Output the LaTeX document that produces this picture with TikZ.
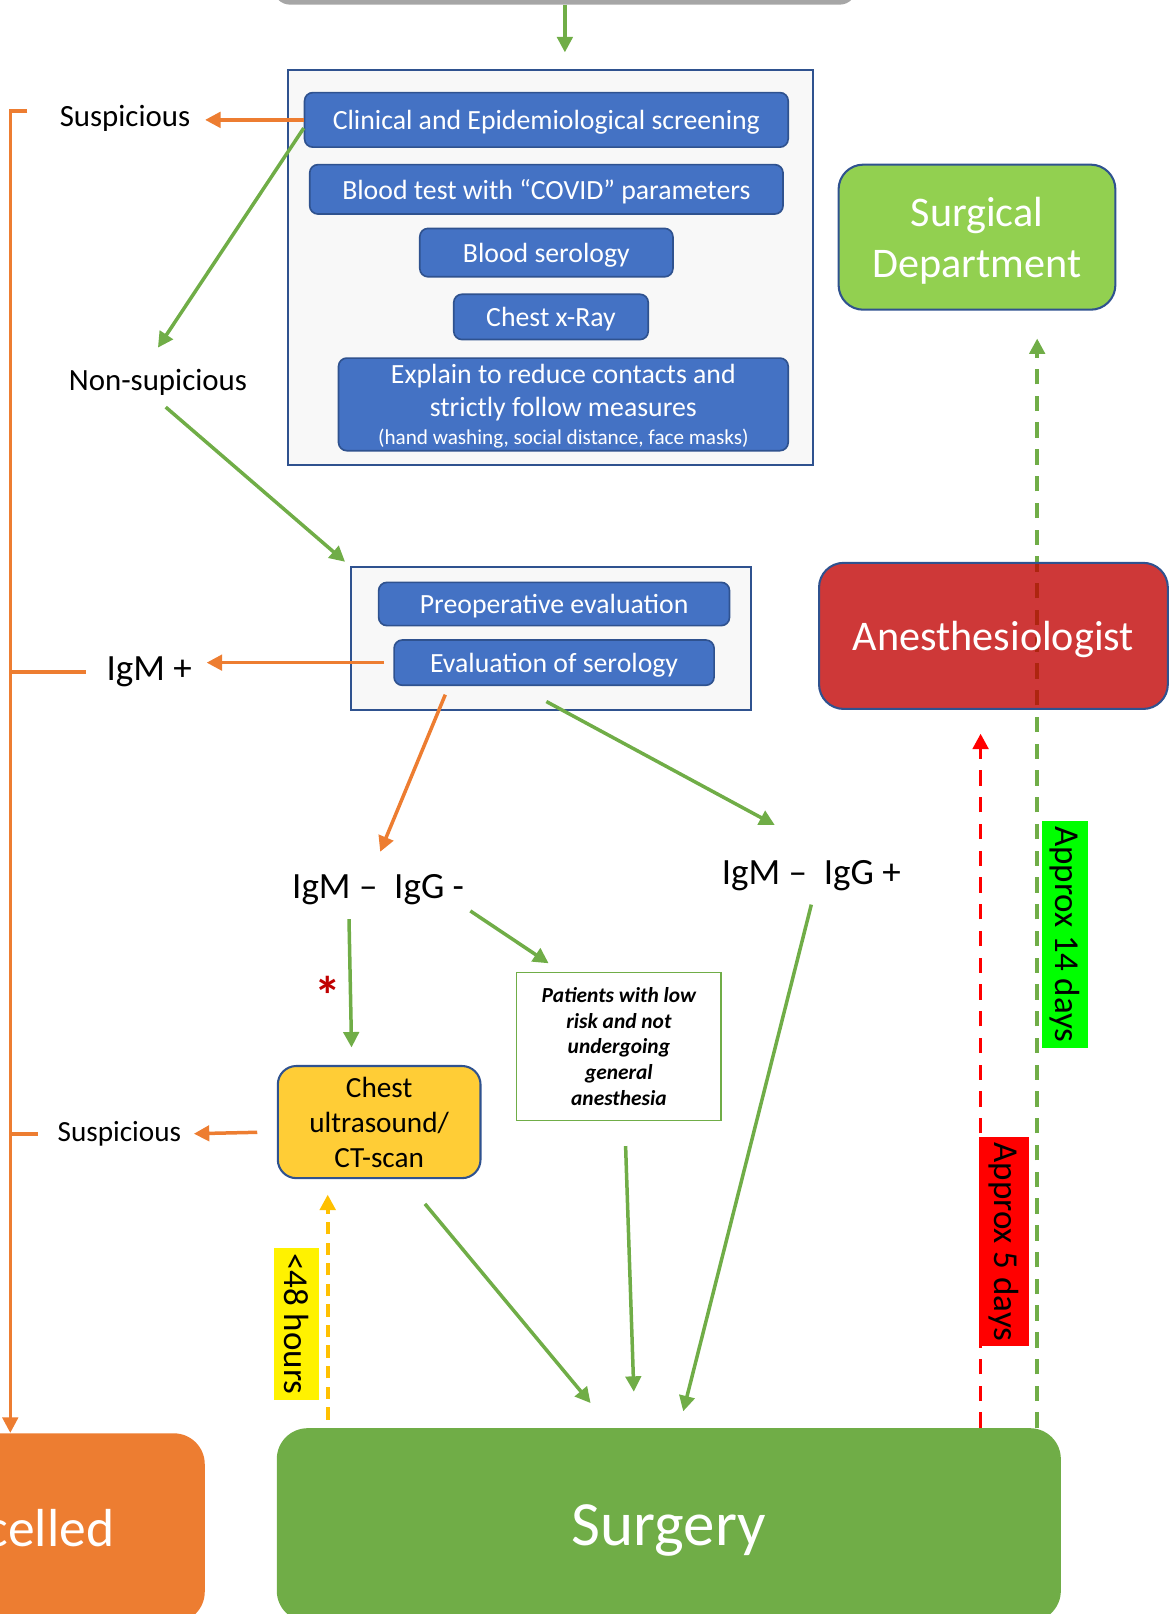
\documentclass[tikz,border=0pt]{standalone}
\usepackage{fontspec}
\setmainfont{Carlito}
\usepackage{xcolor}
\usepackage{tikz}
\usetikzlibrary{arrows.meta}

\definecolor{offblue}{HTML}{4472C4}
\definecolor{edgeblue}{HTML}{2F528F}
\definecolor{panel}{HTML}{F8F8F8}
\definecolor{ogreen}{HTML}{70AD47}
\definecolor{lgreen}{HTML}{92D050}
\definecolor{oorange}{HTML}{ED7D31}
\definecolor{gold}{HTML}{FFC000}
\definecolor{ultfill}{HTML}{FFCD36}
\definecolor{darkred}{HTML}{C00000}
\definecolor{greyline}{HTML}{A6A6A6}

\begin{document}
\begin{tikzpicture}[x=0.5pt, y=-0.5pt,
        arrowhd/.style={-{Triangle[length=7.5pt, width=7.5pt]}},
        garrow/.style={draw=ogreen, line width=1.7pt, arrowhd},
        oarrow/.style={draw=oorange, line width=1.7pt, arrowhd},
        oline/.style={draw=oorange, line width=1.6pt},
        dashline/.style={line width=1.8pt, dash pattern=on 7.5pt off 5.5pt, arrowhd},
        panelbox/.style={rectangle, draw=edgeblue, line width=1.1pt, fill=panel},
        bluebox/.style={rectangle, rounded corners=4pt, draw=edgeblue, line width=0.8pt, fill=offblue, text=white, inner sep=0pt, text depth=0pt, font=\fontsize{13.5}{16}\selectfont},
        lbl/.style={inner sep=2pt},
        tag/.style={rotate=-90, inner xsep=2.5pt, inner ysep=0pt, minimum height=22pt}]
    \useasboundingbox (0,0) rectangle (1142,1568.6);

    \node[draw=greyline, line width=2.5pt, fill=white, rounded corners=7pt, minimum width=281pt, minimum height=40pt] (top) at (549,-38) {};
    \node[panelbox, minimum width=255pt, minimum height=192pt] (scr) at (535,260) {};
    \node[panelbox, minimum width=194.5pt, minimum height=69.5pt] (pre) at (535.5,620.5) {};

    \node[bluebox, minimum width=235pt, minimum height=26.5pt] (clin) at (531,116.5) {Clinical and Epidemiological screening};
    \node[bluebox, minimum width=230pt, minimum height=24pt] (blood) at (531,184) {Blood test with “COVID” parameters};
    \node[bluebox, minimum width=123pt, minimum height=23.5pt] (sero) at (531,245.5) {Blood serology};
    \node[bluebox, minimum width=94.5pt, minimum height=22pt] (xray) at (535.5,308) {Chest x-Ray};
    \node[bluebox, minimum width=218.5pt, minimum height=45pt, align=center] (expl) at (547.5,393) {Explain to reduce contacts and\\strictly follow measures\\[-2pt]{\fontsize{10.3}{12}\selectfont (hand washing, social distance, face masks)}};
    \node[bluebox, minimum width=170.5pt, minimum height=21pt] (preop) at (538.5,587) {Preoperative evaluation};
    \node[bluebox, minimum width=155.5pt, minimum height=22pt] (evalser) at (538.5,644) {Evaluation of serology};

    \node[lbl, font=\fontsize{15}{18}\selectfont] (sus1) at (121.5,115) {Suspicious};
    \node[lbl, font=\fontsize{15}{18}\selectfont] (nonsus) at (153.5,372) {Non-supicious};
    \node[lbl, font=\fontsize{18}{22}\selectfont] (igmp) at (145,653) {IgM +};
    \node[lbl, font=\fontsize{18}{22}\selectfont] (igmneg) at (367.5,865) {IgM – \ IgG -};
    \node[lbl, font=\fontsize{18}{22}\selectfont] (igmpos) at (788.5,851) {IgM – \ IgG +};
    \node[lbl, font=\fontsize{14.2}{17}\selectfont] (sus2) at (116,1102) {Suspicious};
    \node[text=darkred, font=\fontsize{26}{26}\selectfont\bfseries, inner sep=0pt, anchor=north] (star) at (319,948) {*};

    \node[draw=edgeblue, line width=1pt, fill=ultfill, rounded corners=9pt, minimum width=98.5pt, minimum height=54.5pt, align=center, font=\fontsize{14.2}{17}\selectfont] (ultr) at (368.5,1090.5) {Chest\\ultrasound/\\CT-scan};
    \node[draw=ogreen, line width=0.8pt, fill=white, minimum width=99.5pt, minimum height=72pt, align=center, font=\fontsize{10.4}{12.5}\selectfont\bfseries\itshape] (pat) at (601.5,1017) {Patients with low\\risk and not\\undergoing\\general\\anesthesia};
    \node[draw=edgeblue, line width=1pt, fill=lgreen, rounded corners=12pt, minimum width=134.5pt, minimum height=70.5pt, align=center, text depth=0pt, text=white, font=\fontsize{20.5}{24.5}\selectfont] (dept) at (949.5,230.5) {Surgical\\Department};
    \node[fill=ogreen, rounded corners=15pt, minimum width=381pt, minimum height=94pt, text depth=0pt, text=white, font=\fontsize{30.6}{36}\selectfont] (surg) at (650,1482) {Surgery};
    \node[fill=oorange, rounded corners=15pt, minimum width=190.5pt, minimum height=92pt, text depth=0pt, text=white, font=\fontsize{26}{30}\selectfont] (canc) at (8.5,1485) {Cancelled};

    \draw[dashline, draw=ogreen, shorten >=13.5pt] ([xshift=29.25pt]dept.south |- surg.north) -- ([xshift=29.25pt]dept.south);
    \node[draw=edgeblue, line width=1pt, fill=darkred, fill opacity=0.78, text opacity=1, rounded corners=12pt, minimum width=169.5pt, minimum height=71pt, text depth=0pt, text=white, font=\fontsize{20.5}{24.5}\selectfont] (anes) at (965.5,618) {Anesthesiologist};
    \draw[dashline, draw=red, shorten >=11.5pt] ([xshift=-6.25pt]anes.south |- surg.north) -- ([xshift=-6.25pt]anes.south);
    \draw[dashline, draw=gold, dash pattern=on 6pt off 4pt, shorten <=4pt, shorten >=7.5pt] ([xshift=-25pt]ultr.south |- surg.north) -- ([xshift=-25pt]ultr.south);

    \node[tag, fill=yellow, font=\fontsize{17}{20}\selectfont] (h48) at (288.5,1286.5) {<48 hours};
    \node[tag, fill=green, font=\fontsize{17}{20}\selectfont] (d14) at (1035,908) {Approx 14 days};
    \node[tag, fill=red, minimum height=24.5pt, font=\fontsize{17}{20}\selectfont] (d5) at (975.5,1207) {Approx 5 days};

    \draw[garrow, shorten >=8pt] (top.south) -- (top.south |- scr.north);
    \draw[oarrow, shorten >=5pt] (clin.west) -- (clin.west -| sus1.east);
    \draw[garrow] ([yshift=-4pt]clin.west) -- ([yshift=8.5pt]nonsus.north);
    \draw[garrow, shorten <=5pt, shorten >=3pt] (nonsus.south) -- (pre.north west);
    \draw[oarrow, shorten <=4.5pt, shorten >=5pt] (evalser.west) -- (evalser.west -| igmp.east);
    \draw[oarrow, shorten <=4.5pt] ([xshift=27pt]evalser.south west) -- ([shift={(1pt,9pt)}]igmneg.north);
    \draw[garrow] ([shift={(-3.75pt,-7.5pt)}]evalser.south) -- ([shift={(-17.75pt,15pt)}]igmpos.north);
    \draw[garrow, shorten <=4.5pt, shorten >=8.5pt] ([xshift=-14.25pt]igmneg.south) -- ([xshift=-13.25pt]ultr.north);
    \draw[garrow, shorten <=1pt] (igmneg.south east) -- ([shift={(16pt,4pt)}]pat.north west);
    \draw[oarrow, shorten <=9.5pt, shorten >=4pt] ([yshift=-4.75pt]ultr.west) -- (sus2.east);
    \draw[garrow] ([shift={(22.25pt,-12pt)}]ultr.south) -- ([shift={(-38pt,12pt)}]surg.north);
    \draw[garrow] ([shift={(3.25pt,-12pt)}]pat.south) -- ([shift={(-17pt,17.5pt)}]surg.north);
    \draw[garrow] ([yshift=-4.5pt]igmpos.south) -- ([shift={(7pt,8pt)}]surg.north);

    \coordinate (bus) at (10,108);
    \draw[oline, arrowhd] ([xshift=-13.5pt]sus1.west |- bus) -- (bus) -- (bus |- canc.north);
    \draw[oline] ([xshift=-8pt]igmp.west) -- (bus |- igmp.west);
    \draw[oline] ([xshift=-7.5pt]sus2.west) -- (bus |- sus2.west);
\end{tikzpicture}
\end{document}
